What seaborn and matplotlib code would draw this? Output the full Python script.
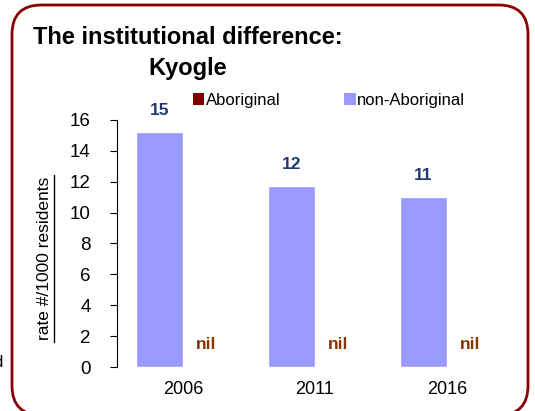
import matplotlib
matplotlib.use("Agg")
import matplotlib.pyplot as plt
from matplotlib.patches import FancyBboxPatch, Patch
from matplotlib.lines import Line2D
import seaborn as sns
import pandas as pd

years = ["2006", "2011", "2016"]
non_aboriginal = [15.2, 11.7, 11.0]
aboriginal = [0, 0, 0]
non_ab_labels = ["15", "12", "11"]
ab_labels = ["nil", "nil", "nil"]
groups = ["non-Aboriginal", "Aboriginal"]

sns.set_style("white")
plt.rcParams['font.family'] = ['Liberation Sans', 'DejaVu Sans']
plt.rcParams['text.color'] = 'black'
plt.rcParams['xtick.color'] = 'black'
plt.rcParams['ytick.color'] = 'black'

df = pd.DataFrame({
    "year": years * 2,
    "group": ["non-Aboriginal"] * 3 + ["Aboriginal"] * 3,
    "rate": non_aboriginal + aboriginal,
})

pal = {"non-Aboriginal": "#9999FF", "Aboriginal": "#800000"}

fig = plt.figure(figsize=(5.35, 4.11), dpi=100)

# rounded frame round the whole chart
box = FancyBboxPatch((12 / 535, -0.01), 516 / 535, 1 - 5 / 411 + 0.01,
                     boxstyle="round,pad=0,rounding_size=0.055",
                     transform=fig.transFigure, facecolor="white",
                     edgecolor="#8B0000", linewidth=2, mutation_aspect=535 / 411,
                     zorder=-1)
fig.patches.append(box)

ax = fig.add_axes([117 / 535, 1 - 367 / 411, 396 / 535, 247 / 411])
ax.patch.set_alpha(0)
sns.barplot(data=df, x="year", y="rate", hue="group", hue_order=groups,
            palette=pal, width=0.71, ax=ax, legend=False, saturation=1)

ax.set_ylim(0, 16)
ax.set_yticks(range(0, 17, 2))
ax.set_xlabel("")
ax.set_ylabel("")
for s in ["top", "right", "bottom"]:
    ax.spines[s].set_visible(False)
ax.spines["left"].set_color("black")
ax.spines["left"].set_linewidth(0.8)
ax.tick_params(axis="y", length=5, width=0.8, direction="out", labelsize=13.5, pad=14, left=True)
ax.tick_params(axis="x", length=0, labelsize=13, pad=10)

# value labels
for i, lab in enumerate(non_ab_labels):
    ax.text(i - 0.178, non_aboriginal[i] + 0.9, lab, ha="center", va="bottom",
            fontsize=12.5, fontweight="bold", color="#1F3A73")
for i, lab in enumerate(ab_labels):
    ax.text(i + 0.178, 1.0, lab, ha="center", va="bottom",
            fontsize=12.5, fontweight="bold", color="#8B3300")

# legend
handles = [Patch(facecolor=pal["Aboriginal"], edgecolor="none", label="Aboriginal"),
           Patch(facecolor=pal["non-Aboriginal"], edgecolor="none", label="non-Aboriginal")]
fig.legend(handles=handles, loc="center left", bbox_to_anchor=(186 / 535, 1 - 100 / 411),
           ncol=2, frameon=False, fontsize=12, handlelength=0.7, handleheight=0.7,
           handletextpad=0.1, columnspacing=3.8, borderaxespad=0)

# titles
fig.text(33 / 535, 1 - 38 / 411, "The institutional difference:", fontsize=17,
         fontweight="bold", ha="left", va="center")
fig.text(148 / 535, 1 - 68 / 411, "Kyogle", fontsize=17,
         fontweight="bold", ha="left", va="center")

# y axis title with underline
fig.text(45 / 535, 1 - 258 / 411, "rate #/1000 residents", rotation=90,
         fontsize=12.5, ha="center", va="center")
fig.add_artist(Line2D([54 / 535, 54 / 535], [1 - 342 / 411, 1 - 175 / 411],
                      color="black", linewidth=1, transform=fig.transFigure))

# clipped text fragment at the left edge
fig.text(-0.012, 1 - 362 / 411, "d", fontsize=12, ha="left", va="center")

fig.savefig("out.png", dpi=100)
